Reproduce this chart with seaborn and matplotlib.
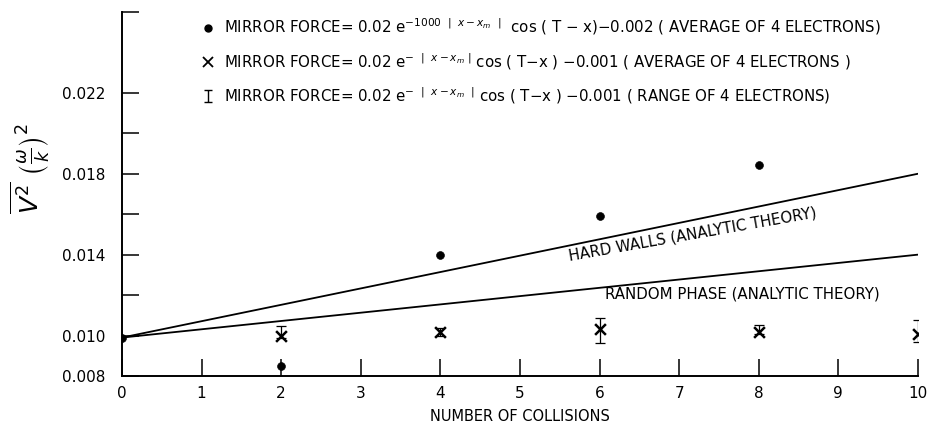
import matplotlib
matplotlib.use("Agg")
import matplotlib.pyplot as plt
from matplotlib.lines import Line2D
from matplotlib.path import Path
import numpy as np
import pandas as pd
import seaborn as sns

# Mirror force 0.02 e^{-1000|x-xm|} cos(T-x) - 0.002, average of 4 electrons
avg_a_collisions = [0, 2, 4, 6, 8]
avg_a_v2 = [0.0099, 0.0085, 0.0140, 0.0159, 0.01845]

# Mirror force 0.02 e^{-|x-xm|} cos(T-x) - 0.001, average of 4 electrons
avg_b_collisions = [2, 4, 6, 8, 10]
avg_b_v2 = [0.0100, 0.0102, 0.01033, 0.0102, 0.01008]

# Same force, range over the 4 electrons
range_low = [0.0099, 0.0100, 0.00962, 0.0101, 0.00967]
range_high = [0.01047, 0.01035, 0.01087, 0.01053, 0.01078]

# Analytic theory lines
theory_collisions = [0, 10]
hard_walls_v2 = [0.0099, 0.0180]
random_phase_v2 = [0.0099, 0.0140]

x_ticks = list(range(0, 11))
y_ticks = [0.008, 0.010, 0.012, 0.014, 0.016, 0.018, 0.020, 0.022, 0.026]
y_tick_labels = ["0.008", "0.010", "", "0.014", "", "0.018", "", "0.022", ""]

sns.set_theme(style="white")
plt.rcParams["font.family"] = ["DejaVu Sans"]
plt.rcParams["mathtext.fontset"] = "dejavusans"
plt.rcParams["text.color"] = "black"
plt.rcParams["axes.labelcolor"] = "black"

fig = plt.figure(figsize=(9.29, 4.28), dpi=100)
ax = fig.add_axes([0.1313, 0.1215, 0.8567, 0.8505])

df_a = pd.DataFrame({"n": avg_a_collisions, "v2": avg_a_v2})
df_b = pd.DataFrame({"n": avg_b_collisions, "v2": avg_b_v2})
df_hw = pd.DataFrame({"n": theory_collisions, "v2": hard_walls_v2})
df_rp = pd.DataFrame({"n": theory_collisions, "v2": random_phase_v2})

sns.lineplot(data=df_hw, x="n", y="v2", ax=ax, color="black", lw=1.3)
sns.lineplot(data=df_rp, x="n", y="v2", ax=ax, color="black", lw=1.3)

bx = np.array(avg_b_collisions)
ax.errorbar(bx, (np.array(range_low) + np.array(range_high)) / 2,
            yerr=(np.array(range_high) - np.array(range_low)) / 2,
            fmt="none", ecolor="black", elinewidth=0.9, capsize=3.5,
            capthick=0.9, zorder=3)
sns.scatterplot(data=df_b, x="n", y="v2", ax=ax, marker="x", s=60,
                color="black", linewidth=1.8, zorder=4)
sns.scatterplot(data=df_a, x="n", y="v2", ax=ax, marker="o", s=32,
                color="black", edgecolor="black", zorder=4)

ax.set_xlim(0, 10)
ax.set_ylim(0.008, 0.026)
ax.set_xticks(x_ticks)
ax.set_yticks(y_ticks)
ax.set_yticklabels(y_tick_labels)
for s in ("top", "right"):
    ax.spines[s].set_visible(False)
for s in ("left", "bottom"):
    ax.spines[s].set_color("black")
    ax.spines[s].set_linewidth(1.4)
ax.tick_params(axis="x", bottom=True, direction="in", length=12, width=1.1,
               pad=7, labelsize=11, colors="black")
ax.tick_params(axis="y", left=True, direction="in", length=12, width=1.1,
               pad=12, labelsize=11, colors="black")
ax.set_xlabel("NUMBER OF COLLISIONS", fontsize=10.5, labelpad=6)
ax.set_ylabel(r"$\overline{V^2}\ \left(\frac{\omega}{k}\right)^2$",
              fontsize=18, labelpad=8)
ax.yaxis.set_label_coords(-0.088, 0.57)

ax.text(5.62, 0.01372, "HARD WALLS (ANALYTIC THEORY)", rotation=10,
        rotation_mode="anchor", ha="left", va="baseline", fontsize=10.8)
ax.text(6.07, 0.01182, "RANDOM PHASE (ANALYTIC THEORY)", ha="left",
        va="baseline", fontsize=10.8)

# I-beam glyph for the range entry of the key
ibeam = Path([(-0.6, 1), (0.6, 1), (0, 1), (0, -1), (-0.6, -1), (0.6, -1)],
             [Path.MOVETO, Path.LINETO, Path.MOVETO, Path.LINETO,
              Path.MOVETO, Path.LINETO])

handles = [
    Line2D([], [], marker="o", ls="none", color="black", markersize=5),
    Line2D([], [], marker="x", ls="none", color="black", markersize=7,
           markeredgewidth=1.3),
    Line2D([], [], marker=ibeam, ls="none", color="black", markersize=9,
           markeredgewidth=1.0, markerfacecolor="none"),
]
labels = [
    r"MIRROR FORCE= 0.02 e$^{-1000\ \ |\ \ x-x_m\ \ |}$  cos ( T $-$ x)$-$0.002 ( AVERAGE OF 4 ELECTRONS)",
    r"MIRROR FORCE= 0.02 e$^{-\ \ |\ \ x-x_m\ |}$ cos ( T$-$x ) $-$0.001 ( AVERAGE OF 4 ELECTRONS )",
    r"MIRROR FORCE= 0.02 e$^{-\ \ |\ \ x-x_m\ \ |}$ cos ( T$-$x ) $-$0.001 ( RANGE OF 4 ELECTRONS)",
]
ax.legend(handles, labels, loc="upper left", bbox_to_anchor=(0.085, 1.016),
          frameon=False, fontsize=10.8, handlelength=1.0, handletextpad=0.6,
          labelspacing=0.9, borderaxespad=0.3)

fig.savefig("out.png", dpi=100)
